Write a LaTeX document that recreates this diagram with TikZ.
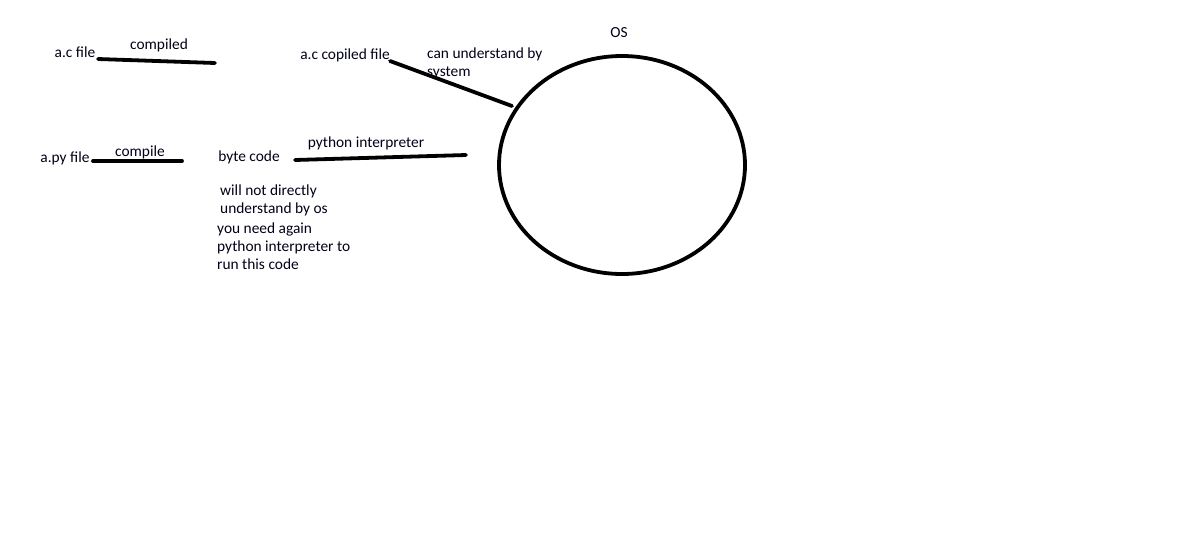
\documentclass[tikz,border=0pt]{standalone}
\usepackage{fontspec}
\setmainfont{Carlito}
\usetikzlibrary{shapes.geometric}
\begin{document}
\begin{tikzpicture}[x=1pt,y=-1pt,
  lbl/.style={inner sep=0pt,font=\fontsize{15.4}{18}\selectfont,text=black!90!blue},
  blk/.style={lbl,align=left,anchor=north west},
  pen/.style={line width=3.8pt,line cap=round}]
\useasboundingbox[fill=white] (0,0) rectangle (1191,542);
% labels
\node[lbl] (acfile) at (75,52) {a.c file};
\node[lbl] (compiled) at (159,45) {compiled};
\node[lbl] (accop) at (345,55) {a.c copiled file};
\node[blk] (canund) at (427,48) {can understand by\\system};
\node[lbl] (oslbl) at (619,33) {OS};
\node[lbl] (apy) at (65,158) {a.py file};
\node[lbl] (compile) at (140,152) {compile};
\node[lbl] (byte) at (249,157) {byte code};
\node[lbl] (pyint) at (366,143) {python interpreter};
\node[blk] (note1) at (220,185) {will not directly\\understand by os};
\node[blk] (note2) at (217,223) {you need again\\python interpreter to\\run this code};
% OS circle
\node[draw,line width=3.8pt,ellipse,minimum width=246pt,minimum height=218pt,inner sep=0pt] (os) at (622,165) {};
% connectors
\coordinate (c1a) at (98,59);
\coordinate (c1b) at (215,63);
\coordinate (c2a) at (390,61);
\coordinate (c2b) at (512,106);
\coordinate (c3a) at (93,161);
\coordinate (c3b) at (182,161);
\coordinate (c4a) at (295,160);
\coordinate (c4b) at (466,155);
\draw[pen] (c1a) -- (c1b);
\draw[pen] (c2a) -- (c2b);
\draw[pen] (c3a) -- (c3b);
\draw[pen] (c4a) -- (c4b);
\end{tikzpicture}
\end{document}
